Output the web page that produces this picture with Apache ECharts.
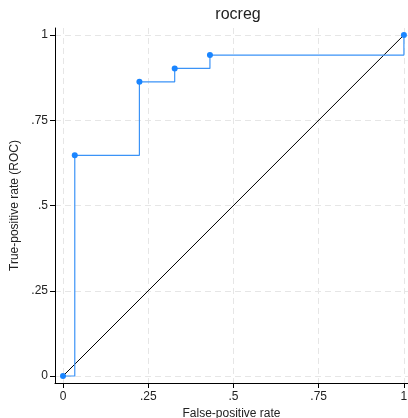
<!DOCTYPE html>
<html><head><meta charset="utf-8">
<script src="https://cdn.jsdelivr.net/npm/echarts@6/dist/echarts.min.js"></script>
<style>html,body{margin:0;padding:0;background:#fff}#c{width:408px;height:418px}</style>
</head><body><div id="c"></div>
<script>
const fpr = [0, 0.0345, 0.2241, 0.3276, 0.4310, 1];
const tpr = [0, 0.6471, 0.8627, 0.9020, 0.9412, 1];
const refX = [0, 1];
const refY = [0, 1];
const tickValues = [0, 0.25, 0.5, 0.75, 1];
const tickLabels = ['0', '.25', '.5', '.75', '1'];

const fmt = v => { const i = tickValues.findIndex(t => Math.abs(t - v) < 1e-6); return i >= 0 ? tickLabels[i] : ''; };
const font = 'Liberation Sans, Arial, sans-serif';
const chart = echarts.init(document.getElementById('c'));
const axisCommon = {
  type: 'value',
  axisLine: { show: true, onZero: false, lineStyle: { color: '#000', width: 1 } },
  axisTick: { show: true, length: 5, customValues: tickValues, lineStyle: { color: '#000' } },
  axisLabel: { customValues: tickValues, formatter: fmt, color: '#222', fontSize: 12, fontFamily: font },
  splitLine: { show: true, lineStyle: { color: '#e6e6e6', type: [6, 4], width: 1 } },
  nameLocation: 'middle',
  nameTextStyle: { color: '#222', fontSize: 12, fontFamily: font }
};
chart.setOption({
  animation: false,
  title: { text: 'rocreg', left: 233, top: 2, textAlign: 'center',
    textStyle: { fontSize: 16, fontWeight: 'normal', color: '#222', fontFamily: font } },
  grid: { left: 55, right: 0, top: 28, bottom: 35, containLabel: false, outerBoundsMode: 'none' },
  xAxis: Object.assign({}, axisCommon, { min: -0.0235, max: 1.012, name: 'False-positive rate', nameGap: 20 }),
  yAxis: Object.assign({}, axisCommon, { min: -0.0205, max: 1.0205, name: 'True-positive rate (ROC)', nameGap: 34,
    axisLabel: Object.assign({}, axisCommon.axisLabel, { margin: 7 }) }),
  series: [
    { type: 'line', step: 'end', data: fpr.map((x, i) => [x, tpr[i]]),
      symbol: 'circle', symbolSize: 6, showAllSymbol: true,
      itemStyle: { color: '#1a85ff' }, lineStyle: { color: '#3b93f7', width: 1.2 }, z: 3 },
    { type: 'line', data: refX.map((x, i) => [x, refY[i]]), symbol: 'none',
      lineStyle: { color: '#000', width: 1 }, z: 2 }
  ]
});
</script></body></html>
